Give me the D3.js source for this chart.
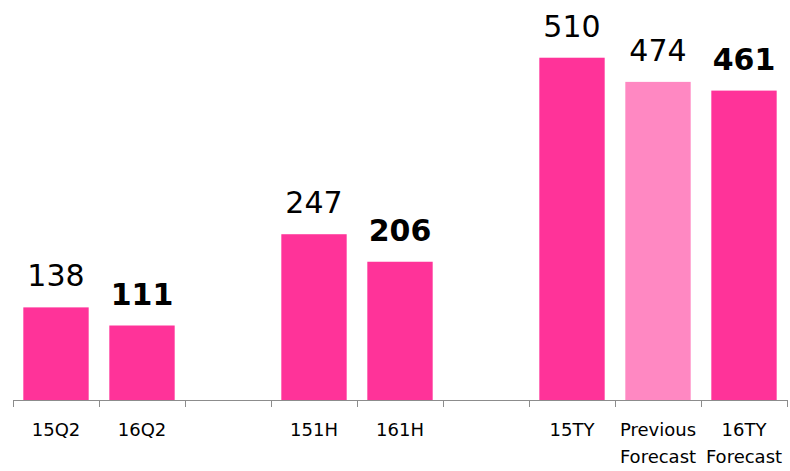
<!DOCTYPE html>
<html>
<head>
<meta charset="utf-8">
<script src="https://cdn.jsdelivr.net/npm/d3@7"></script>
<style>
  body { margin: 0; background: #fff; }
  svg { display: block; font-family: Verdana, "DejaVu Sans", sans-serif; }
</style>
</head>
<body>
<div id="chart"></div>
<script>
'use strict'

// categories (empty slots are gaps between groups)
const categories = ['15Q2', '16Q2', 'gap1', '151H', '161H', 'gap2', '15TY', 'Previous Forecast', '16TY Forecast'];
const values = [138, 111, null, 247, 206, null, 510, 474, 461];
const bold = [false, true, false, false, true, false, false, false, true];
const colors = ['#FF3399', '#FF3399', null, '#FF3399', '#FF3399', null, '#FF3399', '#FF88C2', '#FF3399'];

const width = 790, height = 471;
const margin = { top: 0, right: 3, bottom: 71, left: 13 };

const svg = d3.select('#chart').append('svg')
  .attr('width', width)
  .attr('height', height);

const x = d3.scaleBand()
  .domain(categories)
  .range([margin.left, width - margin.right])
  .paddingInner(0.24)
  .paddingOuter(0.12);

const y = d3.scaleLinear()
  .domain([0, 596])
  .range([height - margin.bottom, margin.top]);

const base = y(0);
const step = x.step();
const start = margin.left;

// bars
const data = categories.map((c, i) => ({ cat: c, value: values[i], bold: bold[i], color: colors[i] }))
  .filter(d => d.value != null);

svg.selectAll('.bar')
  .data(data)
  .join('rect')
  .attr('class', 'bar')
  .attr('x', d => x(d.cat))
  .attr('y', d => y(d.value))
  .attr('width', x.bandwidth())
  .attr('height', d => base - y(d.value))
  .attr('fill', d => d.color);

// value labels
svg.selectAll('.val')
  .data(data)
  .join('text')
  .attr('class', 'val')
  .attr('x', d => x(d.cat) + x.bandwidth() / 2)
  .attr('y', d => y(d.value) - 21)
  .attr('text-anchor', 'middle')
  .attr('font-size', 30)
  .attr('font-weight', d => d.bold ? 'bold' : 'normal')
  .attr('fill', '#000')
  .text(d => d.value);

// axis line + ticks at band boundaries
svg.append('line')
  .attr('x1', start).attr('x2', width - margin.right)
  .attr('y1', base + 0.5).attr('y2', base + 0.5)
  .attr('stroke', '#8c8c8c').attr('stroke-width', 1);

svg.selectAll('.tick')
  .data(d3.range(categories.length + 1))
  .join('line')
  .attr('class', 'tick')
  .attr('x1', i => Math.round(start + i * step) + 0.5)
  .attr('x2', i => Math.round(start + i * step) + 0.5)
  .attr('y1', base)
  .attr('y2', base + 7)
  .attr('stroke', '#8c8c8c');

// category labels
const labels = svg.selectAll('.cat')
  .data(categories.filter(c => !c.startsWith('gap')))
  .join('text')
  .attr('class', 'cat')
  .attr('text-anchor', 'middle')
  .attr('font-size', 18)
  .attr('fill', '#000');

labels.each(function(c) {
  const words = c.split(' ');
  const cx = x(c) + x.bandwidth() / 2;
  d3.select(this).selectAll('tspan')
    .data(words)
    .join('tspan')
    .attr('x', cx)
    .attr('y', (w, i) => base + 36 + i * 27)
    .text(w => w);
});
</script>
</body>
</html>
